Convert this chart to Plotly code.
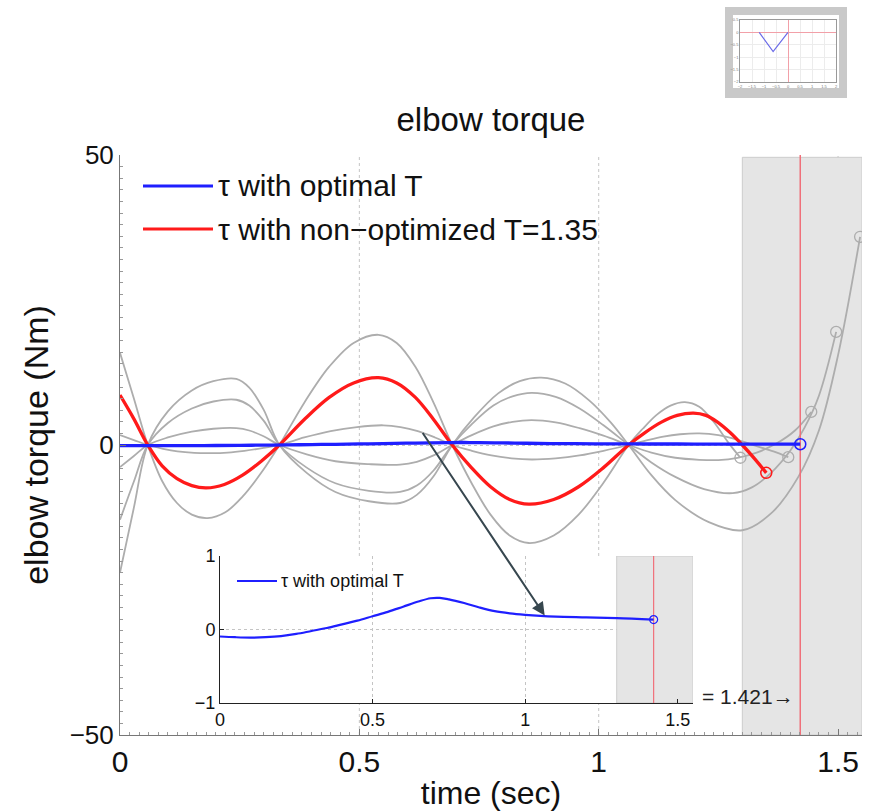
import plotly.graph_objects as go

W, H = 872, 811
FONT = "Liberation Sans, Arial, sans-serif"

# final times
T_OPT = 1.421
T_RED = 1.35
SHADE_START = 1.3
X_END = 1.55
Y_LIM = 50

# torque with optimal T (Nm)
t_blue = [0, 0.05, 0.1, 0.15, 0.2, 0.25, 0.3, 0.35, 0.4, 0.45, 0.5, 0.55, 0.6, 0.65, 0.69, 0.72,
          0.75, 0.8, 0.85, 0.9, 0.95, 1.0, 1.05, 1.1, 1.2, 1.3, 1.421]
tau_blue = [-0.095, -0.105, -0.11, -0.105, -0.09, -0.06, -0.02, 0.02, 0.07, 0.12, 0.18, 0.24, 0.31, 0.38,
            0.425, 0.43, 0.41, 0.36, 0.3, 0.25, 0.22, 0.2, 0.185, 0.175, 0.165, 0.155, 0.135]

# torque with non-optimized T = 1.35 (Nm)
t_red = [0, 0.029, 0.058, 0.088, 0.119, 0.15, 0.18, 0.218, 0.256, 0.295, 0.333,
         0.385, 0.437, 0.488, 0.54, 0.578, 0.617, 0.655, 0.694,
         0.734, 0.774, 0.814, 0.854, 0.906, 0.958, 1.01, 1.0625,
         1.096, 1.13, 1.164, 1.198, 1.224, 1.249, 1.275, 1.3, 1.325, 1.35]
tau_red = [8.6, 4.5, 0, -3.6, -5.8, -7.0, -7.4, -6.8, -5.2, -2.8, 0,
           4.4, 8.2, 10.7, 11.6, 10.7, 8.2, 4.4, 0,
           -3.9, -7.2, -9.4, -10.2, -9.4, -7.2, -3.9, 0,
           2.1, 3.9, 5.1, 5.5, 5.1, 3.9, 2.1, 0, -2.3, -4.8]

# torques for other final times (Nm)
t_g130 = [0, 0.029, 0.058, 0.088, 0.119, 0.15, 0.183, 0.22, 0.256, 0.295, 0.333,
          0.385, 0.437, 0.488, 0.54, 0.578, 0.617, 0.655, 0.694,
          0.734, 0.774, 0.814, 0.854, 0.906, 0.958, 1.01, 1.0625,
          1.092, 1.121, 1.15, 1.18, 1.21, 1.24, 1.27, 1.296]
tau_g130 = [15.9, 8.0, 0, -6.2, -10.0, -12.0, -12.6, -11.6, -8.9, -4.8, 0,
            7.3, 13.5, 17.6, 19.0, 17.6, 13.5, 7.3, 0,
            -6.5, -12.0, -15.6, -16.9, -15.6, -12.0, -6.5, 0,
            2.8, 5.2, 6.8, 7.4, 6.6, 4.0, 0.5, -2.2]

t_g140 = [0, 0.029, 0.058, 0.09, 0.12, 0.155, 0.19, 0.225, 0.26, 0.297, 0.333,
          0.385, 0.44, 0.495, 0.55, 0.586, 0.622, 0.658, 0.694,
          0.735, 0.776, 0.818, 0.86, 0.91, 0.96, 1.01, 1.0625,
          1.1, 1.135, 1.17, 1.21, 1.25, 1.29, 1.33, 1.365, 1.396]
tau_g140 = [1.7, 0.85, 0, -0.65, -1.1, -1.35, -1.4, -1.3, -1.0, -0.55, 0,
            1.3, 2.4, 3.1, 3.4, 3.1, 2.4, 1.3, 0,
            -1.0, -1.8, -2.3, -2.5, -2.3, -1.8, -1.0, 0,
            0.8, 1.45, 1.85, 2.0, 1.7, 0.9, -0.2, -1.1, -2.1]

t_g145 = [0, 0.029, 0.058, 0.1, 0.15, 0.195, 0.243, 0.27, 0.3, 0.333,
          0.39, 0.45, 0.52, 0.585, 0.62, 0.655, 0.694,
          0.735, 0.78, 0.82, 0.86, 0.91, 0.96, 1.01, 1.0625,
          1.11, 1.16, 1.21, 1.25, 1.29, 1.33, 1.37, 1.41, 1.444]
tau_g145 = [-3.8, -1.9, 0, 1.3, 2.3, 2.8, 2.9, 2.5, 1.5, 0,
            -1.6, -2.8, -3.3, -3.4, -2.9, -1.8, 0,
            1.7, 3.2, 4.0, 4.3, 3.9, 2.9, 1.6, 0,
            -1.3, -2.2, -2.55, -2.6, -2.2, -1.3, 0.2, 2.5, 5.7]

t_g150 = [0, 0.029, 0.058, 0.1, 0.15, 0.195, 0.243, 0.27, 0.3, 0.333,
          0.39, 0.45, 0.52, 0.585, 0.62, 0.655, 0.694,
          0.735, 0.78, 0.82, 0.86, 0.91, 0.96, 1.01, 1.0625,
          1.11, 1.16, 1.22, 1.28, 1.32, 1.36, 1.4, 1.43, 1.46, 1.496]
tau_g150 = [-12.9, -6.3, 0, 3.8, 6.3, 7.5, 7.8, 6.8, 4.2, 0,
            -3.9, -6.6, -7.9, -8.1, -7.0, -4.4, 0,
            3.6, 6.8, 8.4, 9.0, 8.3, 6.3, 3.4, 0,
            -3.0, -5.5, -7.6, -8.3, -7.3, -4.8, -1.0, 3.0, 8.5, 19.5]

t_g155 = [0, 0.029, 0.058, 0.1, 0.15, 0.195, 0.243, 0.27, 0.3, 0.333,
          0.39, 0.45, 0.52, 0.585, 0.62, 0.655, 0.694,
          0.74, 0.79, 0.835, 0.88, 0.93, 0.98, 1.025, 1.0625,
          1.11, 1.16, 1.23, 1.3, 1.36, 1.417, 1.46, 1.5, 1.546]
tau_g155 = [-22.0, -10.8, 0, 5.8, 9.4, 11.0, 11.4, 9.9, 6.1, 0,
            -4.8, -8.1, -9.7, -10.0, -8.6, -5.4, 0,
            4.8, 8.9, 11.0, 11.6, 10.6, 7.7, 3.9, 0,
            -5.2, -9.5, -13.3, -14.7, -11.8, -5.5, 2.5, 15.5, 35.9]

gray_runs = [(t_g130, tau_g130), (t_g140, tau_g140), (t_g145, tau_g145),
             (t_g150, tau_g150), (t_g155, tau_g155)]

# small preview panel (top right)
thumb_x = [-1.2, -0.62, 0.0]
thumb_y = [0.0, -0.77, 0.0]

x_ticks = [0, 0.5, 1, 1.5]
x_tick_text = ["0", "0.5", "1", "1.5"]
y_ticks = [-50, 0, 50]
inset_y_ticks = [-1, 0, 1]

BLUE = "#1f1fff"
RED = "#ff1a1a"
GRAY = "#adadad"
VLINE = "#f0707a"
GRID = "#c4c4c4"


def px(x):
    return x / W


def py(y):
    return 1 - y / H


# axes placement (figure fractions)
MAIN_X = [px(120), px(862)]
MAIN_Y = [py(735), py(155)]
INSET_X = [px(220), px(693)]
INSET_Y = [py(703), py(556)]

fig = go.Figure()

# ---- main axes ----
for t, tau in gray_runs:
    fig.add_trace(go.Scatter(x=t, y=tau, mode="lines",
                             line=dict(color=GRAY, width=1.8, shape="spline", smoothing=1.0),
                             showlegend=False, hoverinfo="skip"))
    fig.add_trace(go.Scatter(x=[t[-1]], y=[tau[-1]], mode="markers",
                             marker=dict(symbol="circle-open", size=11, color=GRAY, line=dict(width=1.3)),
                             showlegend=False, hoverinfo="skip"))

fig.add_trace(go.Scatter(x=[T_OPT, T_OPT], y=[-Y_LIM, Y_LIM], mode="lines",
                         line=dict(color=VLINE, width=1.5), showlegend=False, hoverinfo="skip"))

fig.add_trace(go.Scatter(x=t_red, y=tau_red, mode="lines", name="τ with non−optimized T=1.35",
                         line=dict(color=RED, width=3.3, shape="spline"), showlegend=False))
fig.add_trace(go.Scatter(x=[t_red[-1]], y=[tau_red[-1]], mode="markers",
                         marker=dict(symbol="circle-open", size=11, color=RED, line=dict(width=1.5)),
                         showlegend=False, hoverinfo="skip"))
fig.add_trace(go.Scatter(x=t_blue, y=tau_blue, mode="lines", name="τ with optimal T",
                         line=dict(color=BLUE, width=3.3, shape="spline"), showlegend=False))
fig.add_trace(go.Scatter(x=[t_blue[-1]], y=[tau_blue[-1]], mode="markers",
                         marker=dict(symbol="circle-open", size=11, color=BLUE, line=dict(width=1.5)),
                         showlegend=False, hoverinfo="skip"))

# ---- inset axes ----
fig.add_trace(go.Scatter(x=[T_OPT, T_OPT], y=[-1, 1], mode="lines", xaxis="x2", yaxis="y2",
                         line=dict(color=VLINE, width=1.2), showlegend=False, hoverinfo="skip"))
fig.add_trace(go.Scatter(x=t_blue, y=tau_blue, mode="lines", xaxis="x2", yaxis="y2",
                         line=dict(color=BLUE, width=2.2, shape="spline"), showlegend=False))
fig.add_trace(go.Scatter(x=[t_blue[-1]], y=[tau_blue[-1]], mode="markers", xaxis="x2", yaxis="y2",
                         marker=dict(symbol="circle-open", size=8, color=BLUE, line=dict(width=1.2)),
                         showlegend=False, hoverinfo="skip"))

# ---- preview panel ----
fig.add_trace(go.Scatter(x=thumb_x, y=thumb_y, mode="lines", xaxis="x3", yaxis="y3",
                         line=dict(color="#6a6ae8", width=1.2), showlegend=False, hoverinfo="skip"))

fig.update_layout(
    width=W, height=H,
    margin=dict(l=0, r=0, t=0, b=0),
    paper_bgcolor="white", plot_bgcolor="white",
    font=dict(family=FONT, color="#111"),
    title=dict(text="elbow torque", x=px(491), y=py(119), xanchor="center", yanchor="middle",
               xref="paper", yref="paper", automargin=False,
               font=dict(family=FONT, size=33, color="#111")),
    xaxis=dict(domain=MAIN_X, range=[0, X_END], tickvals=x_ticks, ticktext=x_tick_text,
               anchor="y", automargin=False, showgrid=False,
               zeroline=False, showline=True, linecolor="#777", linewidth=1,
               ticks="inside", ticklen=6, tickcolor="#777",
               minor=dict(ticks="inside", ticklen=3, dtick=0.02, tickcolor="#999", showgrid=False),
               tickfont=dict(family=FONT, size=30, color="#111"),
               title=dict(text="time (sec)", font=dict(family=FONT, size=32, color="#111"), standoff=4)),
    yaxis=dict(domain=MAIN_Y, range=[-Y_LIM, Y_LIM], tickvals=y_ticks,
               anchor="x", automargin=False, showgrid=True, griddash="dot", gridcolor=GRID, gridwidth=1,
               zeroline=False, showline=True, linecolor="#777", linewidth=1,
               ticks="inside", ticklen=6, tickcolor="#777",
               minor=dict(ticks="inside", ticklen=3, dtick=2, tickcolor="#999", showgrid=False),
               tickfont=dict(family=FONT, size=26, color="#111"),
               title=dict(text="elbow torque (Nm)", font=dict(family=FONT, size=34, color="#111"), standoff=10)),
    xaxis2=dict(domain=INSET_X, range=[0, X_END], tickvals=x_ticks, ticktext=x_tick_text,
                anchor="y2", automargin=False, showgrid=True, griddash="dot", gridcolor=GRID,
                zeroline=False, showline=True, linecolor="#222", linewidth=1,
                ticks="inside", ticklen=4, tickcolor="#222",
                tickfont=dict(family=FONT, size=18, color="#111")),
    yaxis2=dict(domain=INSET_Y, range=[-1, 1], tickvals=inset_y_ticks,
                anchor="x2", automargin=False, showgrid=True, griddash="dot", gridcolor=GRID,
                zeroline=False, showline=True, linecolor="#222", linewidth=1,
                ticks="inside", ticklen=4, tickcolor="#222",
                tickfont=dict(family=FONT, size=18, color="#111")),
    xaxis3=dict(domain=[px(740), px(836)], range=[-2, 2], dtick=0.5, anchor="y3", automargin=False,
                showgrid=True, gridcolor="#ececec", gridwidth=0.6,
                zeroline=True, zerolinecolor="#f2a0a8", zerolinewidth=1,
                showline=True, linecolor="#999", linewidth=0.6, mirror=True,
                tickfont=dict(size=4, color="#777"), ticks=""),
    yaxis3=dict(domain=[py(82), py(20)], range=[-2, 0.5], dtick=0.5, anchor="x3", automargin=False,
                showgrid=True, gridcolor="#ececec", gridwidth=0.6,
                zeroline=True, zerolinecolor="#f2a0a8", zerolinewidth=1,
                showline=True, linecolor="#999", linewidth=0.6, mirror=True,
                tickfont=dict(size=4, color="#777"), ticks=""),
)


def main_x_of(frac):
    return (frac - MAIN_X[0]) / (MAIN_X[1] - MAIN_X[0]) * X_END


def main_y_of(frac):
    return -Y_LIM + (frac - MAIN_Y[0]) / (MAIN_Y[1] - MAIN_Y[0]) * 2 * Y_LIM


# vertical dotted grid of the main axes, interrupted where the zoomed view sits
inset_left, inset_right = main_x_of(INSET_X[0]), main_x_of(INSET_X[1])
inset_bottom, inset_top = main_y_of(INSET_Y[0]), main_y_of(INSET_Y[1])
grid_shapes = []
for xv in x_ticks[1:]:
    if inset_left < xv < inset_right:
        spans = [(inset_top, Y_LIM), (-Y_LIM, inset_bottom)]
    else:
        spans = [(-Y_LIM, Y_LIM)]
    for y0, y1 in spans:
        grid_shapes.append(dict(type="line", xref="x", yref="y", x0=xv, x1=xv, y0=y0, y1=y1,
                                line=dict(color=GRID, width=1, dash="dot"), layer="below"))

shapes = grid_shapes + [
    # preview panel frame
    dict(type="rect", xref="paper", yref="paper", x0=px(725), x1=px(847), y0=py(98), y1=py(7),
         fillcolor="#c9c9c9", line=dict(width=0), layer="below"),
    dict(type="rect", xref="paper", yref="paper", x0=px(733), x1=px(839), y0=py(88), y1=py(15),
         fillcolor="white", line=dict(width=0), layer="below"),
    # shaded region after the switching time (top grid line left visible)
    dict(type="rect", xref="x", yref="y", x0=SHADE_START, x1=X_END, y0=-Y_LIM, y1=Y_LIM - 0.4,
         fillcolor="#e5e5e5", line=dict(color="#cccccc", width=1), layer="between"),
    dict(type="rect", xref="x2", yref="y2", x0=SHADE_START, x1=X_END, y0=-1, y1=1,
         fillcolor="#e5e5e5", line=dict(color="#cccccc", width=1), layer="between"),
    # legend samples
    dict(type="line", xref="paper", yref="paper", x0=px(143), x1=px(213), y0=py(186), y1=py(186),
         line=dict(color=BLUE, width=3)),
    dict(type="line", xref="paper", yref="paper", x0=px(143), x1=px(213), y0=py(229), y1=py(229),
         line=dict(color=RED, width=3)),
    dict(type="line", xref="paper", yref="paper", x0=px(237), x1=px(277), y0=py(581), y1=py(581),
         line=dict(color=BLUE, width=2)),
]
fig.update_layout(shapes=shapes)

annotations = [
    dict(text="τ with optimal T", xref="paper", yref="paper", x=px(216), y=py(186),
         xanchor="left", yanchor="middle", showarrow=False, font=dict(family=FONT, size=30, color="#111")),
    dict(text="τ with non−optimized T=1.35", xref="paper", yref="paper", x=px(216), y=py(229),
         xanchor="left", yanchor="middle", showarrow=False, font=dict(family=FONT, size=30, color="#111")),
    dict(text="τ with optimal T", xref="paper", yref="paper", x=px(279), y=py(581),
         xanchor="left", yanchor="middle", showarrow=False, font=dict(family=FONT, size=18, color="#111")),
    dict(text="= 1.421→", xref="x", yref="y", x=1.412, y=-43.3, xanchor="right", yanchor="middle",
         showarrow=False, font=dict(family=FONT, size=21, color="#222")),
    # arrow from the main plot into the zoomed view
    dict(text="", xref="x2", yref="y2", x=1.064, y=0.19, ax=-123, ay=-184, axref="pixel", ayref="pixel",
         showarrow=True, arrowhead=2, arrowsize=1.3, arrowwidth=2, arrowcolor="#37474f"),
]
fig.update_layout(annotations=annotations)

fig.write_html("out.html")
